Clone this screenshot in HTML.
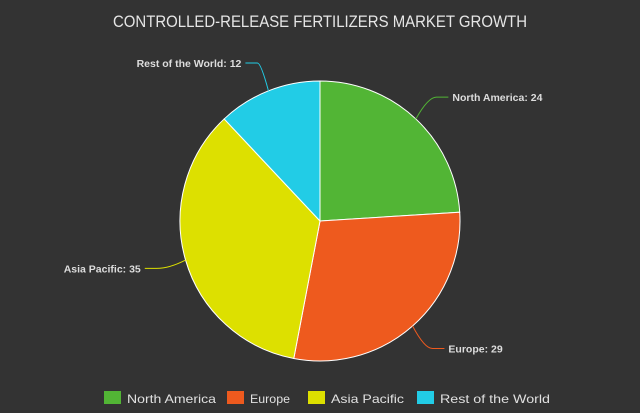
<!DOCTYPE html>
<html><head><meta charset="utf-8"><style>
html,body{margin:0;padding:0;background:#333333;}
svg{display:block;font-family:"Liberation Sans",sans-serif;}
</style></head><body>
<svg id="chart" width="640" height="413" viewBox="0 0 640 413">
<rect width="640" height="413" fill="#333333"/>
<text x="320" y="27" text-anchor="middle" fill="#e6e6e6" font-size="17" textLength="414" lengthAdjust="spacingAndGlyphs">CONTROLLED-RELEASE FERTILIZERS MARKET GROWTH</text>
<g id="slices"></g>
<g id="labels"></g>
<g id="legend"></g>
</svg>
<script>
const categories = ["North America", "Europe", "Asia Pacific", "Rest of the World"];
const values = [24, 29, 35, 12];
const colors = ["#52b535", "#ee5a1e", "#dde000", "#22cce6"];
const NS = "http://www.w3.org/2000/svg";
const cx = 320, cy = 221, r = 140;
const total = values.reduce((a, b) => a + b, 0);
function pt(a, rad) { return [cx + rad * Math.sin(a), cy - rad * Math.cos(a)]; }
const gS = document.getElementById("slices"), gL = document.getElementById("labels"), gG = document.getElementById("legend");
let acc = 0;
values.forEach((v, i) => {
  const a0 = acc / total * 2 * Math.PI; acc += v;
  const a1 = acc / total * 2 * Math.PI;
  const [x0, y0] = pt(a0, r), [x1, y1] = pt(a1, r);
  const p = document.createElementNS(NS, "path");
  p.setAttribute("d", `M${cx},${cy} L${x0},${y0} A${r},${r} 0 ${a1 - a0 > Math.PI ? 1 : 0} 1 ${x1},${y1} Z`);
  p.setAttribute("fill", colors[i]);
  p.setAttribute("stroke", "#ffffff");
  p.setAttribute("stroke-width", "1");
  
  
  gS.appendChild(p);
  const am = (a0 + a1) / 2;
  const [ex, ey] = pt(am, r);
  const [mx, my] = pt(am, r + 30);
  const right = Math.sin(am) >= 0;
  const tx = mx + (right ? 12 : -12);
  const l = document.createElementNS(NS, "path");
  l.setAttribute("d", `M${ex},${ey} Q${(ex + mx) / 2 + (right ? 2 : -2)},${my} ${mx},${my} L${tx},${my}`);
  l.setAttribute("fill", "none");
  l.setAttribute("stroke", colors[i]);
  
  
  gL.appendChild(l);
  const t = document.createElementNS(NS, "text");
  t.setAttribute("x", tx + (right ? 4 : -4));
  t.setAttribute("y", my + 4);
  t.setAttribute("text-anchor", right ? "start" : "end");
  t.setAttribute("fill", "#dddddd");
  t.setAttribute("font-size", "10.5");
  t.setAttribute("font-weight", "bold");
  t.textContent = categories[i] + ": " + v;
  
  
  gL.appendChild(t);
});
const legX = [104, 227, 308, 417];
const legW = [89, 40, 73, 110];
categories.forEach((c, i) => {
  const g = document.createElementNS(NS, "g");
  
  
  const s = document.createElementNS(NS, "rect");
  s.setAttribute("x", legX[i]); s.setAttribute("y", 391);
  s.setAttribute("width", 17); s.setAttribute("height", 13);
  s.setAttribute("fill", colors[i]);
  
  
  g.appendChild(s);
  const t = document.createElementNS(NS, "text");
  t.setAttribute("x", legX[i] + 23); t.setAttribute("y", 403);
  t.setAttribute("fill", "#e0e0e0"); t.setAttribute("font-size", "12");
  t.setAttribute("textLength", legW[i]); t.setAttribute("lengthAdjust", "spacingAndGlyphs");
  t.textContent = c;
  
  
  g.appendChild(t);
  gG.appendChild(g);
});
</script>
</body></html>
